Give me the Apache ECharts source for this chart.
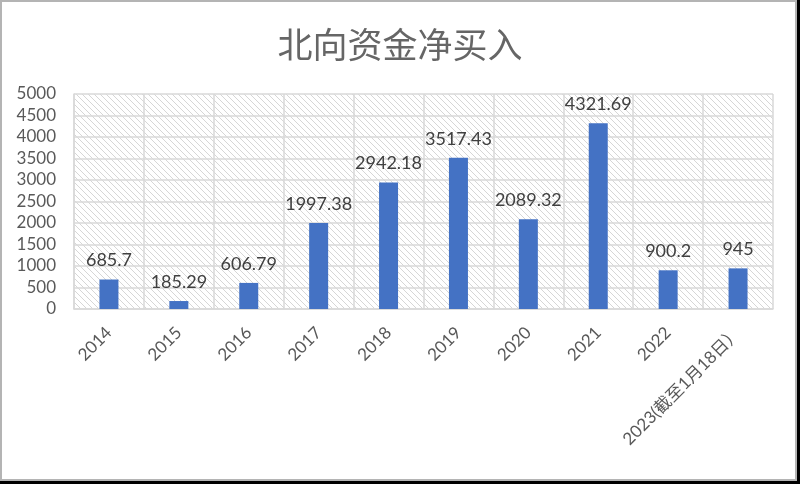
<!DOCTYPE html>
<html>
<head>
<meta charset="utf-8">
<script src="https://cdn.jsdelivr.net/npm/echarts@6/dist/echarts.min.js"></script>
<style>
  html, body { margin: 0; padding: 0; background: #fff; }
  #chart { position: absolute; left: 0; top: 0; width: 800px; height: 484px; }
  #frame { position: absolute; left: 0; top: 0; width: 797px; height: 481px; box-sizing: border-box;
           border: 2px solid #b4b4b4; pointer-events: none; }
  #shadowR { position: absolute; left: 797px; top: 0; width: 3px; height: 484px; background: #000; }
  #shadowB { position: absolute; left: 0; top: 481px; width: 800px; height: 3px; background: #000; }
</style>
</head>
<body>
<div id="chart"></div>
<div id="frame"></div>
<div id="shadowR"></div>
<div id="shadowB"></div>
<script>
const titleText = '北向资金净买入';
const categories = ['2014', '2015', '2016', '2017', '2018', '2019', '2020', '2021', '2022', '2023(截至1月18日）'];
const values = [685.7, 185.29, 606.79, 1997.38, 2942.18, 3517.43, 2089.32, 4321.69, 900.2, 945];
const yMin = 0, yMax = 5000, yStep = 500;

// diagonal hatch pattern
const pc = document.createElement('canvas');
pc.width = 6; pc.height = 6;
const ctx = pc.getContext('2d');
ctx.fillStyle = '#ffffff';
ctx.fillRect(0, 0, 6, 6);
ctx.strokeStyle = '#d6d6d6';
ctx.lineWidth = 1;
ctx.beginPath();
ctx.moveTo(-1, -1); ctx.lineTo(7, 7);
ctx.moveTo(-4, 2); ctx.lineTo(4, 10);
ctx.moveTo(2, -4); ctx.lineTo(10, 4);
ctx.stroke();

const font = 'Lato, "Noto Sans CJK SC", sans-serif';
const chart = echarts.init(document.getElementById('chart'), null, { renderer: 'canvas' });
chart.setOption({
  animation: false,
  backgroundColor: '#ffffff',
  title: {
    text: titleText,
    left: 'center',
    top: 22,
    textStyle: { fontSize: 35, fontWeight: 'normal', color: '#666666', fontFamily: '"Noto Sans CJK SC", sans-serif' }
  },
  grid: {
    left: 74, right: 27, top: 94, bottom: 175,
    show: true,
    borderWidth: 0,
    backgroundColor: { image: pc, repeat: 'repeat' }
  },
  xAxis: {
    type: 'category',
    data: categories,
    axisLine: { show: true, lineStyle: { color: '#d9d9d9', width: 1.5 } },
    axisTick: { show: false },
    splitLine: { show: true, lineStyle: { color: '#d9d9d9', width: 1.5 } },
    axisLabel: { rotate: 45, margin: 21, fontSize: 17, color: '#595959', fontFamily: font, interval: 0 }
  },
  yAxis: {
    type: 'value',
    min: yMin, max: yMax, interval: yStep,
    axisLine: { show: true, lineStyle: { color: '#d9d9d9', width: 1.5 } },
    axisTick: { show: false },
    splitLine: { show: true, lineStyle: { color: '#d9d9d9', width: 1.5 } },
    axisLabel: { margin: 18, fontSize: 17, color: '#595959', fontFamily: font, formatter: v => String(v) }
  },
  series: [{
    type: 'bar',
    data: values,
    barWidth: 19,
    itemStyle: { color: '#4472C4' },
    label: {
      show: true, position: 'top', distance: 10,
      fontSize: 18, color: '#404040', fontFamily: font
    }
  }]
});
</script>
</body>
</html>
